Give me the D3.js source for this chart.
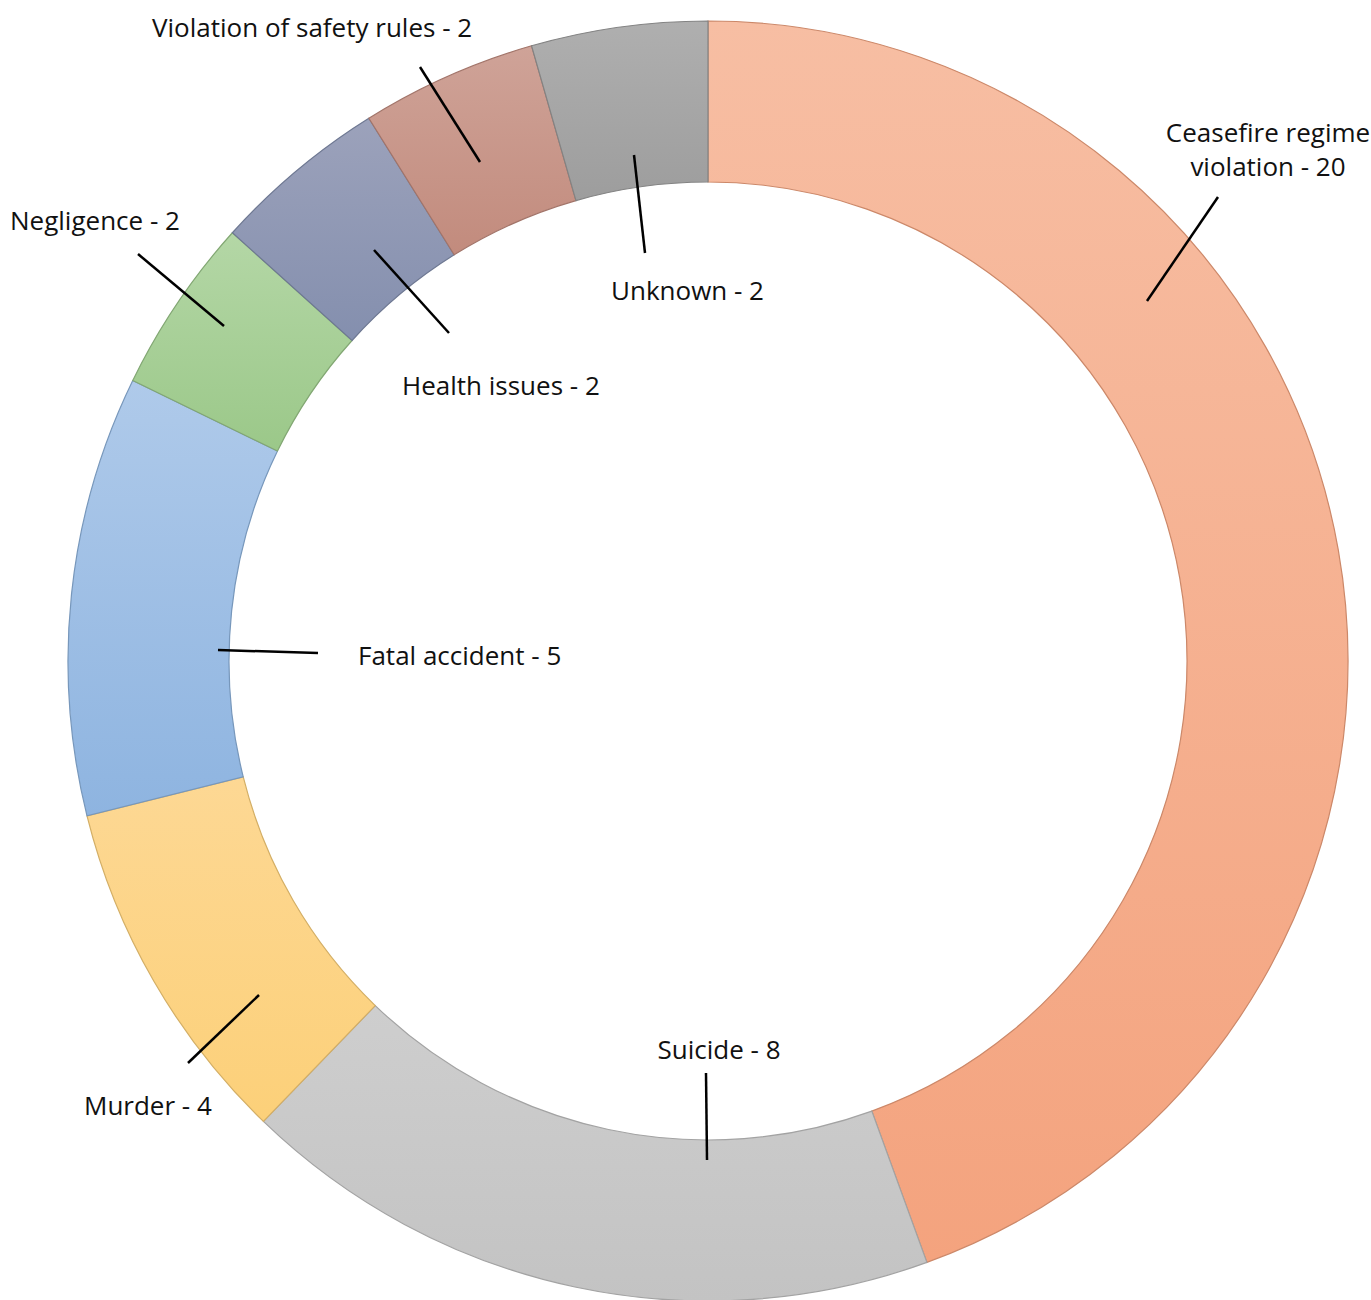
<!DOCTYPE html>
<html>
<head>
<meta charset="utf-8">
<script src="https://cdn.jsdelivr.net/npm/d3@7"></script>
<style>
  body { margin: 0; background: #fff; }
  text { font-family: "Open Sans", "Noto Sans", sans-serif; font-size: 26px; fill: #111; }
</style>
</head>
<body>
<script>
// data, clockwise from 12 o'clock
var categories = ["Ceasefire regime violation", "Suicide", "Murder", "Fatal accident",
                  "Negligence", "Health issues", "Violation of safety rules", "Unknown"];
var values = [20, 8, 4, 5, 2, 2, 2, 2];
var topColors = ["#f7bea3", "#cecece", "#fdd894", "#afcaea", "#b4d7a6", "#9ca2bb", "#cfa398", "#afafaf"];
var bottomColors = ["#f4a37e", "#c3c3c3", "#fcd079", "#8eb4e0", "#9bc889", "#848fae", "#c28b7d", "#9d9d9d"];

// label layout: text lines, text anchor point, leader line
var labels = [
  {lines: ["Ceasefire regime", "violation - 20"], x: 1268, y: 132, anchor: "middle", line: [1147, 301, 1218, 197]},
  {lines: ["Suicide - 8"], x: 719, y: 1049, anchor: "middle", line: [707, 1160, 706, 1073]},
  {lines: ["Murder - 4"], x: 84, y: 1105, anchor: "start", line: [259, 995, 188, 1063]},
  {lines: ["Fatal accident - 5"], x: 358, y: 655, anchor: "start", line: [218, 650, 318, 653]},
  {lines: ["Negligence - 2"], x: 10, y: 220, anchor: "start", line: [224, 326, 138, 254]},
  {lines: ["Health issues - 2"], x: 402, y: 385, anchor: "start", line: [374, 250, 449, 333]},
  {lines: ["Violation of safety rules - 2"], x: 152, y: 27, anchor: "start", line: [480, 162, 420, 67]},
  {lines: ["Unknown - 2"], x: 611, y: 290, anchor: "start", line: [634, 155, 645, 253]}
];

var width = 1371, height = 1300;
var cx = 708, cy = 661, outerR = 640, innerR = 479;

var svg = d3.select("body").append("svg")
    .attr("width", width)
    .attr("height", height);

var defs = svg.append("defs");
categories.forEach(function(c, i) {
    var g = defs.append("linearGradient")
        .attr("id", "grad" + i)
        .attr("x1", 0).attr("y1", 0)
        .attr("x2", 0).attr("y2", 1);
    g.append("stop").attr("offset", "0%").attr("stop-color", topColors[i]);
    g.append("stop").attr("offset", "100%").attr("stop-color", bottomColors[i]);
});

var pie = d3.pie().sort(null).value(function(d) { return d; });
var arc = d3.arc().innerRadius(innerR).outerRadius(outerR);

var g = svg.append("g")
    .attr("transform", "translate(" + cx + "," + cy + ")");

g.selectAll("path")
    .data(pie(values))
    .enter().append("path")
    .attr("d", arc)
    .attr("fill", function(d, i) { return "url(#grad" + i + ")"; })
    .attr("stroke", function(d, i) { return d3.color(bottomColors[i]).darker(0.5); })
    .attr("stroke-width", 1.2);

var lab = svg.append("g");
labels.forEach(function(l) {
    lab.append("line")
        .attr("x1", l.line[0]).attr("y1", l.line[1])
        .attr("x2", l.line[2]).attr("y2", l.line[3])
        .attr("stroke", "#000")
        .attr("stroke-width", 2.5);
    // one text element per line
    l.lines.forEach(function(s, j) {
        lab.append("text")
            .attr("x", l.x)
            .attr("y", l.y + j * 34)
            .attr("text-anchor", l.anchor)
            .attr("dominant-baseline", "central")
            .text(s);
    });
});
</script>
</body>
</html>
